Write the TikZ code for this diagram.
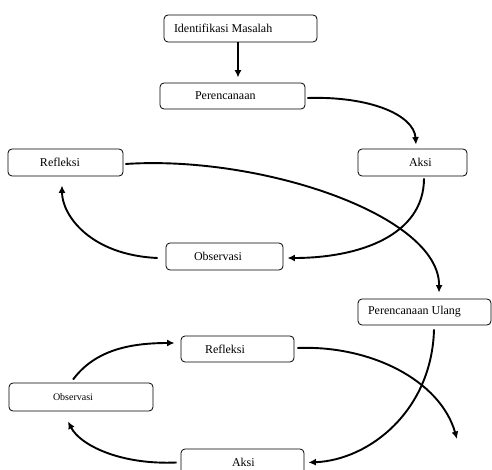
\documentclass[tikz,border=0pt]{standalone}
\usepackage{fontspec}
\setmainfont{Liberation Serif}
\usetikzlibrary{arrows.meta}
\tikzset{
  stagebox/.style={draw, line width=0.8pt, rounded corners=4pt, inner sep=0pt, font=\fontsize{12}{14}\selectfont},
  smallbox/.style={stagebox, font=\fontsize{10}{12}\selectfont},
  flow/.style={line width=1.9pt, -{Latex[length=7.5pt,width=7pt]}}
}
\newcommand{\padtext}[3]{\makebox[#1pt][l]{\hspace*{#2pt}#3}}
\begin{document}
\begin{tikzpicture}[x=1pt,y=-1pt]
\clip (0,0) rectangle (492,470);
\useasboundingbox (0,0) rectangle (492,470);
% nodes
\node[stagebox, minimum height=27pt] (idm) at (240.5,28.5) {\padtext{153}{10}{Identifikasi Masalah}};
\node[stagebox, minimum height=26pt] (per) at (232.5,96) {\padtext{145}{35}{Perencanaan}};
\node[stagebox, minimum height=27pt] (ref1) at (65.5,162.5) {\padtext{115}{32}{Refleksi}};
\node[stagebox, minimum height=27pt] (aks1) at (412.5,162.5) {\padtext{109}{51}{Aksi}};
\node[stagebox, minimum height=27pt] (obs1) at (224.5,256.5) {\padtext{117}{28}{Observasi}};
\node[stagebox, minimum height=26pt] (pu) at (424.5,312) {\padtext{133}{10}{Perencanaan Ulang}};
\node[stagebox, minimum height=26pt] (ref2) at (237.5,349) {\padtext{113}{24}{Refleksi}};
\node[smallbox, minimum height=28pt] (obs2) at (81,397) {\padtext{144}{44}{Observasi}};
\node[stagebox, minimum height=27pt] (aks2) at (242.5,462.5) {\padtext{123}{51}{Aksi}};
\coordinate (end8) at (457,439);
% connectors
\draw[flow] ([xshift=-2.5pt]idm.south) -- ([xshift=5.5pt,yshift=5pt]per.north);
\draw[flow] ([xshift=2pt,yshift=-2pt]per.east) .. controls (370,96) and (414,115) .. ([xshift=3.5pt,yshift=4pt]aks1.north);
\draw[flow] ([xshift=11.5pt,yshift=-2pt]aks1.south) .. controls (424,235) and (360,258) .. ([xshift=4pt,yshift=-1.5pt]obs1.east);
\draw[flow] ([xshift=-8pt,yshift=-1.5pt]obs1.west) .. controls (90,255) and (62,215) .. ([xshift=-3.5pt,yshift=-9pt]ref1.south);
\draw[flow] ([xshift=2pt,yshift=-1.5pt]ref1.east) .. controls (260,155) and (440,215) .. ([xshift=14.5pt,yshift=6pt]pu.north);
\draw[flow] ([xshift=9.5pt,yshift=-4pt]pu.south) .. controls (432,410) and (370,460) .. ([xshift=4pt]aks2.east);
\draw[flow] ([xshift=-4pt]aks2.west) .. controls (120,465) and (80,445) .. ([xshift=-13pt,yshift=-10pt]obs2.south);
\draw[flow] ([xshift=-8pt,yshift=3pt]obs2.north) .. controls (95,350) and (130,343) .. ([xshift=-6pt,yshift=6pt]ref2.west);
\draw[flow] ([xshift=3pt,yshift=1pt]ref2.east) .. controls (370,345) and (440,380) .. (end8);
\end{tikzpicture}
\end{document}
